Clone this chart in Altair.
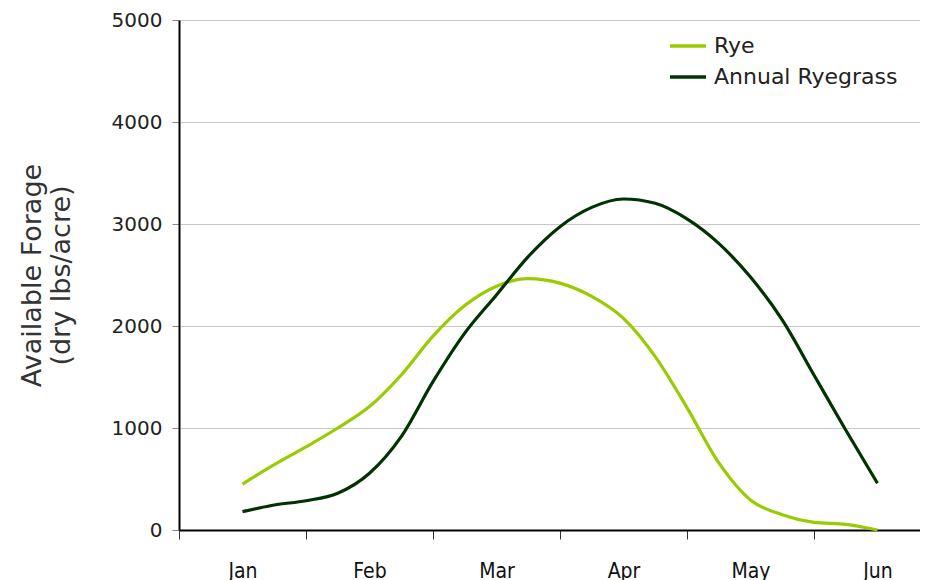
import altair as alt
import pandas as pd

months = ["Jan", "Feb", "Mar", "Apr", "May", "Jun"]
month_index = [0, 1, 2, 3, 4, 5]

# sample positions (in months from mid-January)
x_pos = [0.0, 0.25, 0.5, 0.75, 1.0, 1.25, 1.5, 1.75, 2.0, 2.25, 2.5,
         2.75, 3.0, 3.25, 3.5, 3.75, 4.0, 4.25, 4.5, 4.75, 5.0]

rye = [450, 640, 815, 1000, 1210, 1520, 1900, 2200, 2390, 2465, 2420,
       2290, 2075, 1700, 1200, 660, 295, 150, 75, 55, 0]

ryegrass = [180, 245, 287, 360, 556, 915, 1454, 1930, 2304, 2680, 2974,
            3163, 3245, 3203, 3050, 2810, 2480, 2060, 1520, 980, 458]

series_names = ["Rye", "Annual Ryegrass"]
series_colors = ["#99cc00", "#003300"]

tick_bounds = [-0.5, 0.5, 1.5, 2.5, 3.5, 4.5]

rows = []
for x, a, b in zip(x_pos, rye, ryegrass):
    rows.append({"x": x, "value": a, "series": "Rye"})
    rows.append({"x": x, "value": b, "series": "Annual Ryegrass"})
df = pd.DataFrame(rows)

mdf = pd.DataFrame({"x": month_index, "month": months})

month_expr = "[" + ",".join("'%s'" % m for m in months) + "][datum.value]"

xscale = alt.Scale(domain=[-0.5, 5.335], nice=False, zero=False)

lines = alt.Chart(df).mark_line(strokeWidth=3.2, interpolate="monotone").encode(
    x=alt.X("x:Q", scale=xscale,
            axis=alt.Axis(values=tick_bounds, labels=False, title=None,
                          grid=False, domain=True, domainColor="#000000",
                          domainWidth=2, ticks=True, tickSize=9,
                          tickColor="#333333", tickWidth=1, orient="bottom")),
    y=alt.Y("value:Q",
            scale=alt.Scale(domain=[0, 5000], nice=False),
            axis=alt.Axis(values=[0, 1000, 2000, 3000, 4000, 5000], format="d",
                          title=["Available Forage", "(dry lbs/acre)"],
                          titleFont="DejaVu Sans", titleFontSize=27,
                          titleFontWeight="normal", titleColor="#333333",
                          titlePadding=36, titleLineHeight=29,
                          labelFont="DejaVu Sans", labelFontSize=20,
                          labelColor="#222222", labelPadding=10,
                          grid=True, gridColor="#c8c8c8", gridWidth=1,
                          domainColor="#000000", domainWidth=2,
                          tickColor="#888888", tickSize=7)),
    color=alt.Color("series:N",
                    scale=alt.Scale(domain=series_names, range=series_colors),
                    legend=alt.Legend(title=None, orient="none",
                                      legendX=489, legendY=6,
                                      symbolType="stroke", symbolSize=1300,
                                      symbolStrokeWidth=3.5,
                                      labelFont="DejaVu Sans", labelFontSize=22,
                                      labelColor="#222222", rowPadding=-5,
                                      labelOffset=6, labelLimit=400)),
    order=alt.Order("series:N", sort="descending"),
)

labels = alt.Chart(mdf).mark_point(opacity=0).encode(
    x=alt.X("x:Q", scale=xscale,
            axis=alt.Axis(values=month_index,
                          labelExpr=month_expr,
                          title=None, grid=False, domain=False, ticks=False,
                          labelFont="'Liberation Sans Narrow', 'DejaVu Sans Condensed', 'Liberation Sans', sans-serif",
                          labelFontSize=21,
                          labelColor="#111111", labelPadding=30,
                          orient="bottom")),
    y=alt.value(0),
)

chart = alt.layer(lines, labels).resolve_axis(x="independent").properties(
    width=741, height=510,
    autosize=alt.AutoSizeParams(type="none"),
    padding={"left": 171, "top": 12, "right": 0, "bottom": 50},
).configure_view(stroke=None).configure_axis(labelFontWeight="normal")

chart.save("out.html", embed_options={"renderer": "svg", "actions": False})
